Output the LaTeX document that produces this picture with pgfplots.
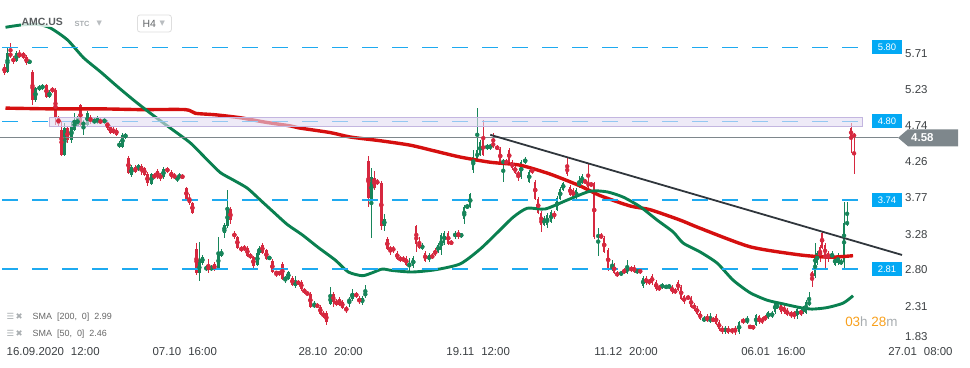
\documentclass[border=0pt]{standalone}
\usepackage{pgfplots}
\pgfplotsset{compat=1.18}
\usepackage{pgfplotstable}
\usepackage{fontspec}
\setmainfont{Liberation Sans}
\newfontfamily\dejavu{DejaVu Sans}
\definecolor{cred}{HTML}{D6283F}
\definecolor{cgreen}{HTML}{17855A}
\definecolor{smared}{HTML}{D50F0F}
\definecolor{smagreen}{HTML}{0A8050}
\definecolor{dashblue}{RGB}{30,170,240}
\definecolor{tagblue}{HTML}{03A9F4}
\definecolor{tickgray}{HTML}{3C4043}
\definecolor{pricegray}{HTML}{7E878C}
\definecolor{trend}{HTML}{30363C}
\definecolor{rectfill}{HTML}{E3DCF2}
\definecolor{rectdraw}{HTML}{C3B6E0}
\definecolor{timeorange}{HTML}{F8A01C}
\definecolor{lightgray}{HTML}{A8ADB0}

\pgfplotstableread{
x o h l c
4 5.54 5.57 5.43 5.45
7 5.47 5.79 5.45 5.72
10 5.72 5.86 5.66 5.68
13 5.66 5.68 5.58 5.60
16 5.62 5.75 5.60 5.72
19 5.72 5.76 5.65 5.67
23 5.72 5.74 5.64 5.66
26 5.67 5.69 5.56 5.59
29 5.59 5.63 5.58 5.62
32 5.47 5.49 5.02 5.09
35 5.09 5.27 5.06 5.25
39 5.23 5.29 5.21 5.27
42 5.24 5.31 5.22 5.29
46 5.29 5.31 5.11 5.13
49 5.13 5.22 5.11 5.20
52 5.25 5.27 5.18 5.20
55 5.23 5.25 4.75 4.85
58 4.85 4.87 4.74 4.77
61 4.69 4.80 4.33 4.35
64 4.35 4.78 4.33 4.71
67 4.71 4.74 4.51 4.55
71 4.55 4.80 4.51 4.73
74 4.69 4.92 4.67 4.82
77 4.74 4.88 4.72 4.85
80 5.02 5.04 4.73 4.75
83 4.75 4.82 4.62 4.79
87 4.75 4.94 4.73 4.92
90 4.86 4.89 4.77 4.79
94 4.78 4.86 4.76 4.82
97 4.78 4.88 4.76 4.85
100 4.82 4.84 4.76 4.78
104 4.78 4.86 4.76 4.83
107 4.79 4.82 4.69 4.71
110 4.73 4.75 4.63 4.65
113 4.70 4.72 4.63 4.65
116 4.69 4.71 4.60 4.62
119 4.46 4.53 4.44 4.51
122 4.46 4.64 4.44 4.62
125 4.58 4.65 4.56 4.63
128 4.31 4.33 4.09 4.11
131 4.08 4.21 4.05 4.19
135 4.19 4.21 4.10 4.12
138 4.15 4.23 4.13 4.21
141 4.20 4.22 4.08 4.13
144 4.17 4.19 4.06 4.08
147 4.09 4.12 3.93 3.97
151 3.96 4.11 3.94 4.09
154 4.08 4.10 4.02 4.04
157 4.13 4.16 4.03 4.05
160 4.08 4.10 4.00 4.04
163 4.05 4.18 4.03 4.16
167 4.17 4.19 4.10 4.12
171 4.12 4.14 4.03 4.05
174 4.08 4.10 4.02 4.04
177 4.01 4.07 3.99 4.05
179 4.04 4.10 4.02 4.08
182 4.07 4.09 4.02 4.04
186 3.90 3.92 3.74 3.76
189 3.77 3.82 3.68 3.70
192 3.70 3.72 3.55 3.57
196 3.08 3.16 2.73 2.75
199 2.75 3.18 2.65 2.91
202 2.89 3.00 2.87 2.97
206 2.80 2.86 2.78 2.84
208 2.85 2.94 2.76 2.80
211 2.80 2.86 2.78 2.84
214 2.88 2.90 2.78 2.80
218 2.83 3.24 2.80 3.01
221 2.99 3.08 2.97 3.04
224 3.30 3.43 3.23 3.41
227 3.39 3.87 3.37 3.62
230 3.62 3.64 3.42 3.47
234 3.30 3.32 3.22 3.24
237 3.24 3.26 3.08 3.10
241 3.10 3.12 3.04 3.06
244 3.11 3.13 3.05 3.07
247 3.10 3.12 2.97 2.99
250 3.00 3.02 2.95 2.97
253 2.97 2.99 2.83 2.85
257 2.87 3.05 2.85 3.03
259 3.02 3.12 3.00 3.10
262 3.14 3.16 3.01 3.03
266 3.06 3.08 2.93 2.95
269 2.95 2.99 2.93 2.97
272 2.92 2.94 2.75 2.77
276 2.77 2.79 2.70 2.75
279 2.77 2.79 2.72 2.74
282 2.88 2.90 2.66 2.68
285 2.66 2.72 2.62 2.70
288 2.68 2.79 2.66 2.77
292 2.69 2.71 2.58 2.60
295 2.58 2.71 2.56 2.64
298 2.64 2.66 2.59 2.61
301 2.64 2.66 2.52 2.54
304 2.54 2.56 2.47 2.49
307 2.50 2.52 2.44 2.46
310 2.48 2.50 2.28 2.30
314 2.30 2.38 2.28 2.34
317 2.33 2.35 2.28 2.30
320 2.30 2.32 2.19 2.21
323 2.22 2.24 2.15 2.17
326 2.22 2.24 2.06 2.10
330 2.34 2.57 2.32 2.45
333 2.48 2.50 2.30 2.36
336 2.38 2.40 2.31 2.33
339 2.41 2.43 2.31 2.33
342 2.37 2.39 2.27 2.29
346 2.29 2.31 2.22 2.25
349 2.36 2.43 2.30 2.41
352 2.40 2.54 2.38 2.49
356 2.48 2.50 2.42 2.44
359 2.42 2.44 2.34 2.36
362 2.36 2.44 2.32 2.42
365 2.44 2.60 2.42 2.50
368 4.27 4.34 3.65 3.77
371 3.76 4.17 3.23 4.05
374 4.04 4.13 3.88 3.90
377 4.00 4.02 3.94 3.96
381 3.97 4.00 3.34 3.39
384 3.39 3.55 3.32 3.49
387 3.22 3.24 3.06 3.08
390 3.10 3.12 3.00 3.06
393 3.10 3.12 3.03 3.05
397 3.03 3.05 2.93 2.95
400 2.96 2.98 2.91 2.93
403 2.96 2.98 2.90 2.92
406 2.96 2.98 2.85 2.87
409 2.85 2.96 2.76 2.89
413 2.85 2.98 2.83 2.96
416 3.39 3.41 3.04 3.15
419 3.16 3.24 3.08 3.10
422 3.08 3.16 3.06 3.14
425 3.03 3.05 2.90 2.92
429 2.93 3.02 2.91 3.00
432 3.00 3.02 2.94 2.96
435 3.07 3.09 2.98 3.00
438 3.04 3.16 3.02 3.14
441 3.07 3.29 3.00 3.27
444 3.16 3.32 3.14 3.30
448 3.30 3.32 3.13 3.15
451 3.18 3.20 3.13 3.15
455 3.24 3.32 3.22 3.30
458 3.30 3.34 3.22 3.24
461 3.25 3.30 3.23 3.28
464 3.49 3.67 3.42 3.65
467 3.64 3.69 3.62 3.66
470 3.65 3.84 3.63 3.82
473 4.15 4.42 4.10 4.32
477 4.28 4.98 4.26 4.42
480 4.35 4.55 4.33 4.52
483 4.55 4.82 4.33 4.35
487 4.43 4.50 4.41 4.48
490 4.44 4.50 4.42 4.48
493 4.52 4.65 4.44 4.46
497 4.46 4.48 4.41 4.43
500 4.43 4.45 4.22 4.24
503 4.24 4.29 3.98 4.27
506 4.27 4.29 4.21 4.23
509 4.42 4.44 4.24 4.26
512 4.26 4.28 4.15 4.17
515 4.19 4.21 4.09 4.11
518 4.11 4.13 4.00 4.07
521 4.05 4.28 4.03 4.26
525 4.24 4.32 4.22 4.30
529 3.99 4.14 3.97 4.12
532 4.16 4.18 4.09 4.11
535 3.99 4.01 3.74 3.76
538 3.76 3.78 3.55 3.57
541 3.57 3.59 3.31 3.41
544 3.41 3.52 3.39 3.50
547 3.41 3.56 3.36 3.54
551 3.45 3.60 3.43 3.58
554 3.57 3.59 3.49 3.51
557 3.61 3.79 3.59 3.77
560 3.76 3.91 3.74 3.89
563 3.88 3.99 3.86 3.97
567 4.20 4.32 4.07 4.09
570 3.92 3.94 3.79 3.81
573 3.88 3.90 3.76 3.78
576 3.77 3.90 3.75 3.88
579 3.92 4.06 3.90 3.99
582 3.97 4.09 3.95 4.07
585 4.01 4.03 3.95 3.97
588 3.99 4.24 3.90 3.92
591 3.97 3.99 3.91 3.93
594 3.97 3.99 3.22 3.24
598 3.24 3.37 2.99 3.27
601 3.27 3.29 3.21 3.23
604 3.23 3.25 3.02 3.04
608 3.07 3.09 2.78 2.80
612 2.80 2.93 2.78 2.87
614 2.87 2.89 2.74 2.76
617 2.76 2.78 2.70 2.72
621 2.73 2.79 2.71 2.77
624 2.80 2.82 2.74 2.76
627 2.76 2.93 2.74 2.84
631 2.83 2.85 2.77 2.79
634 2.84 2.86 2.75 2.77
637 2.76 2.82 2.74 2.80
640 2.80 2.82 2.74 2.76
643 2.58 2.71 2.56 2.69
646 2.69 2.71 2.60 2.62
649 2.66 2.68 2.60 2.62
652 2.72 2.74 2.60 2.62
656 2.64 2.66 2.52 2.54
659 2.57 2.59 2.51 2.53
662 2.56 2.62 2.54 2.60
666 2.56 2.60 2.54 2.58
669 2.56 2.61 2.54 2.59
672 2.57 2.59 2.48 2.50
675 2.53 2.55 2.47 2.49
678 2.64 2.66 2.51 2.53
681 2.57 2.59 2.39 2.41
684 2.44 2.46 2.34 2.36
688 2.44 2.46 2.39 2.41
691 2.42 2.44 2.28 2.30
694 2.33 2.35 2.25 2.27
697 2.29 2.31 2.19 2.21
700 2.22 2.24 2.12 2.14
704 2.11 2.17 2.09 2.15
707 2.18 2.20 2.09 2.11
710 2.11 2.22 2.08 2.14
713 2.14 2.16 2.09 2.11
716 2.18 2.20 2.05 2.07
719 2.10 2.12 1.98 2.00
722 2.02 2.04 1.94 1.96
725 1.96 2.04 1.94 2.02
728 2.02 2.04 1.93 1.95
732 2.00 2.02 1.94 1.96
735 2.02 2.04 1.92 1.96
739 1.96 2.11 1.94 2.09
743 2.13 2.15 2.07 2.09
747 2.09 2.18 2.07 2.13
750 2.04 2.06 2.00 2.02
753 2.04 2.06 1.99 2.01
756 2.06 2.21 2.04 2.19
759 2.17 2.19 2.07 2.09
762 2.14 2.16 2.07 2.09
765 2.17 2.19 2.11 2.13
768 2.15 2.25 2.13 2.23
772 2.17 2.24 2.15 2.22
775 2.23 2.38 2.21 2.36
777 2.29 2.35 2.27 2.33
781 2.33 2.35 2.21 2.23
784 2.30 2.32 2.21 2.23
787 2.26 2.28 2.17 2.19
791 2.23 2.25 2.15 2.17
794 2.23 2.25 2.13 2.17
797 2.17 2.29 2.14 2.27
801 2.26 2.28 2.17 2.19
803 2.22 2.31 2.20 2.29
806 2.22 2.39 2.20 2.37
809 2.33 2.50 2.31 2.37
812 2.77 2.79 2.57 2.69
815 2.71 3.16 2.69 2.97
817 2.89 3.05 2.87 3.03
820 3.11 3.13 2.90 2.97
822 3.30 3.31 3.08 3.10
825 3.14 3.16 2.80 2.97
828 3.03 3.05 2.90 2.96
832 2.96 3.05 2.94 3.03
835 2.87 2.98 2.85 2.96
838 2.89 3.02 2.86 2.96
841 2.88 2.94 2.86 2.92
844 2.91 3.72 2.80 3.43
847 3.41 3.72 3.39 3.45
851 4.71 4.78 4.38 4.59
854 4.63 4.65 4.09 4.59
}\candles

\pgfplotstableread{
x p
5 4.98
50 4.97
100 4.97
140 4.96
185 4.96
195 4.91
215 4.89
240 4.85
265 4.79
290 4.74
300 4.71
330 4.65
350 4.59
380 4.54
410 4.48
435 4.40
460 4.32
490 4.25
520 4.21
550 4.09
580 3.93
600 3.80
630 3.66
650 3.61
680 3.47
700 3.36
750 3.11
800 3.00
830 2.97
853 2.99
}\smaTwoHundred

\pgfplotstableread{
x p
5 6.07
20 6.10
37 6.11
50 6.06
67 5.90
83 5.66
100 5.47
117 5.27
133 5.09
150 4.91
170 4.71
190 4.51
207 4.28
220 4.11
233 4.01
247 3.90
260 3.74
273 3.58
287 3.41
302 3.27
318 3.10
335 2.93
348 2.77
362 2.72
372 2.76
382 2.81
392 2.79
412 2.77
435 2.80
460 2.88
480 3.08
497 3.30
513 3.51
527 3.63
545 3.62
567 3.74
590 3.86
607 3.85
623 3.78
640 3.65
657 3.47
673 3.31
683 3.16
700 3.04
717 2.89
733 2.66
750 2.49
767 2.39
783 2.34
800 2.29
812 2.27
827 2.29
843 2.35
853 2.45
}\smaFifty

\pgfplotstableread{
y
5.80
4.80
3.74
2.81
}\levels

\begin{document}
\begin{tikzpicture}
\begin{axis}[
  scale only axis,
  width=970bp, height=368bp,
  xmin=0, xmax=970, ymin=1.478, ymax=6.438,
  axis line style={draw=none},
  tick style={draw=none},
  major tick length=0pt,
  clip=false,
  ytick={2.31,2.80,3.28,3.77,4.26,4.74,5.23,5.71},
  yticklabels={2.31,2.80,3.28,3.77,4.26,4.74,5.23,5.71},
  extra y ticks={1.83},
  extra y tick labels={1.83},
  extra y tick style={yticklabel style={yshift=5bp}},
  yticklabel pos=right,
  yticklabel style={anchor=west, xshift=-65bp, inner sep=0pt, text=tickgray,
    font=\fontsize{11.5}{13}\selectfont},
  xtick={6,152,298,446,594,741,888},
  xticklabels={16.09.2020\hspace{7bp}12:00, 07.10\hspace{7bp}16:00, 28.10\hspace{7bp}20:00,
    19.11\hspace{7bp}12:00, 11.12\hspace{7bp}20:00, 06.01\hspace{7bp}16:00, 27.01\hspace{7bp}08:00},
  xticklabel style={anchor=west, yshift=16bp, inner sep=0pt, text=tickgray,
    font=\fontsize{11.5}{13}\selectfont},
]

% candle wicks
\addplot[only marks, mark=none, cgreen,
  restrict expr to domain={\thisrow{c}-\thisrow{o}}{0:100},
  error bars/.cd, y dir=both, y explicit, error mark=none,
  error bar style={draw=cgreen, solid, line width=0.8bp}]
  table[x=x, y expr={(\thisrow{h}+\thisrow{l})/2}, y error expr={(\thisrow{h}-\thisrow{l})/2}] {\candles};
\addplot[only marks, mark=none, cred,
  restrict expr to domain={\thisrow{c}-\thisrow{o}}{-100:-0.0001},
  error bars/.cd, y dir=both, y explicit, error mark=none,
  error bar style={draw=cred, solid, line width=0.8bp}]
  table[x=x, y expr={(\thisrow{h}+\thisrow{l})/2}, y error expr={(\thisrow{h}-\thisrow{l})/2}] {\candles};
% candle bodies
\addplot[only marks, mark=none, cgreen,
  restrict expr to domain={\thisrow{c}-\thisrow{o}}{0:100},
  error bars/.cd, y dir=both, y explicit, error mark=none,
  error bar style={draw=cgreen, solid, line width=2.4bp}]
  table[x=x, y expr={(\thisrow{o}+\thisrow{c})/2}, y error expr={max(abs(\thisrow{o}-\thisrow{c})/2,0.012)}] {\candles};
\addplot[only marks, mark=none, cred,
  restrict expr to domain={\thisrow{c}-\thisrow{o}}{-100:-0.0001},
  error bars/.cd, y dir=both, y explicit, error mark=none,
  error bar style={draw=cred, solid, line width=2.4bp}]
  table[x=x, y expr={(\thisrow{o}+\thisrow{c})/2}, y error expr={max(abs(\thisrow{o}-\thisrow{c})/2,0.012)}] {\candles};

% moving averages
\addplot[smared, line width=3.4bp, smooth, tension=0.4, line join=round] table[x=x, y=p] {\smaTwoHundred};
\addplot[smagreen, line width=2.9bp, smooth, tension=0.4, line join=round] table[x=x, y=p] {\smaFifty};

% horizontal dashed levels (drawn over the candles)
\draw[color=dashblue, line width=1.6bp, dash pattern=on 16bp off 14bp] (axis cs:2,5.80) -- (axis cs:872,5.80);
\draw[color=dashblue, line width=1.6bp, dash pattern=on 16bp off 14bp] (axis cs:2,4.80) -- (axis cs:872,4.80);
\draw[color=dashblue, line width=1.6bp, dash pattern=on 16bp off 14bp] (axis cs:2,3.74) -- (axis cs:872,3.74);
\draw[color=dashblue, line width=1.6bp, dash pattern=on 16bp off 14bp] (axis cs:2,2.81) -- (axis cs:872,2.81);

% zone rectangle
\fill[rectfill, fill opacity=0.6] (axis cs:49,4.73) rectangle (axis cs:862,4.86);
\draw[rectdraw, line width=0.8bp] (axis cs:49,4.73) rectangle (axis cs:862,4.86);

% current price line
\draw[pricegray, line width=1bp] (axis cs:0,4.58) -- (axis cs:898,4.58);

% trend line
\addplot[trend, line width=1.8bp] coordinates {(490,4.62) (902,3.00)};

% level tags
\node[fill=tagblue, text=white, minimum width=30bp, minimum height=14bp, inner sep=0pt,
  font=\fontsize{9.5}{10}\selectfont] at (axis cs:887,5.80) {5.80};
\node[fill=tagblue, text=white, minimum width=30bp, minimum height=14bp, inner sep=0pt,
  font=\fontsize{9.5}{10}\selectfont] at (axis cs:887,4.80) {4.80};
\node[fill=tagblue, text=white, minimum width=30bp, minimum height=14bp, inner sep=0pt,
  font=\fontsize{9.5}{10}\selectfont] at (axis cs:887,3.74) {3.74};
\node[fill=tagblue, text=white, minimum width=30bp, minimum height=14bp, inner sep=0pt,
  font=\fontsize{9.5}{10}\selectfont] at (axis cs:887,2.81) {2.81};
\fill[pricegray] (axis cs:898,4.58) -- (axis cs:908,4.695) -- (axis cs:958,4.695)
  -- (axis cs:958,4.465) -- (axis cs:908,4.465) -- cycle;
\node[text=white, anchor=west, inner sep=0pt, font=\bfseries\fontsize{11.5}{13}\selectfont]
  at (axis cs:911,4.58) {4.58};

% header
\node[anchor=west, fill=white, fill opacity=0.8, text opacity=1, inner sep=1bp, text=tickgray!85,
  font=\bfseries\fontsize{10.5}{12}\selectfont] at (axis cs:20,6.142) {AMC.US};
\node[anchor=west, inner sep=0pt, text=lightgray, font=\bfseries\fontsize{7.5}{9}\selectfont]
  at (axis cs:74,6.115) {STC};
\node[anchor=west, inner sep=0pt, text=lightgray!80, font=\dejavu\fontsize{7}{8}\selectfont]
  at (axis cs:96,6.125) {▼};
\draw[rounded corners=2.5bp, draw=black!13, line width=0.8bp] (axis cs:137,6.236) rectangle (axis cs:171,6.007);
\node[anchor=west, inner sep=0pt, text=tickgray!80, font=\fontsize{10.5}{12}\selectfont]
  at (axis cs:142,6.122) {H4};
\node[anchor=west, inner sep=0pt, text=lightgray!80, font=\dejavu\fontsize{7}{8}\selectfont]
  at (axis cs:159,6.118) {▼};

% indicator legend
\node[anchor=west, inner sep=0pt, text=lightgray, font=\dejavu\fontsize{8.5}{9}\selectfont]
  at (axis cs:6,2.166) {☰\,✖};
\node[anchor=west, inner sep=0pt, text=black!60, font=\fontsize{9}{10}\selectfont]
  at (axis cs:32,2.166) {SMA\ \ [200,\ \ 0]\ \ 2.99};
\node[anchor=west, inner sep=0pt, text=lightgray, font=\dejavu\fontsize{8.5}{9}\selectfont]
  at (axis cs:6,1.937) {☰\,✖};
\node[anchor=west, inner sep=0pt, text=black!60, font=\fontsize{9}{10}\selectfont]
  at (axis cs:32,1.937) {SMA\ \ [50,\ \ 0]\ \ 2.46};

% countdown
\node[anchor=west, inner sep=0pt, font=\fontsize{13.5}{15}\selectfont]
  at (axis cs:845,2.098) {\textcolor{timeorange}{03}\textcolor{lightgray}{h} \textcolor{timeorange}{28}\textcolor{lightgray}{m}};
\end{axis}
\end{tikzpicture}
\end{document}
